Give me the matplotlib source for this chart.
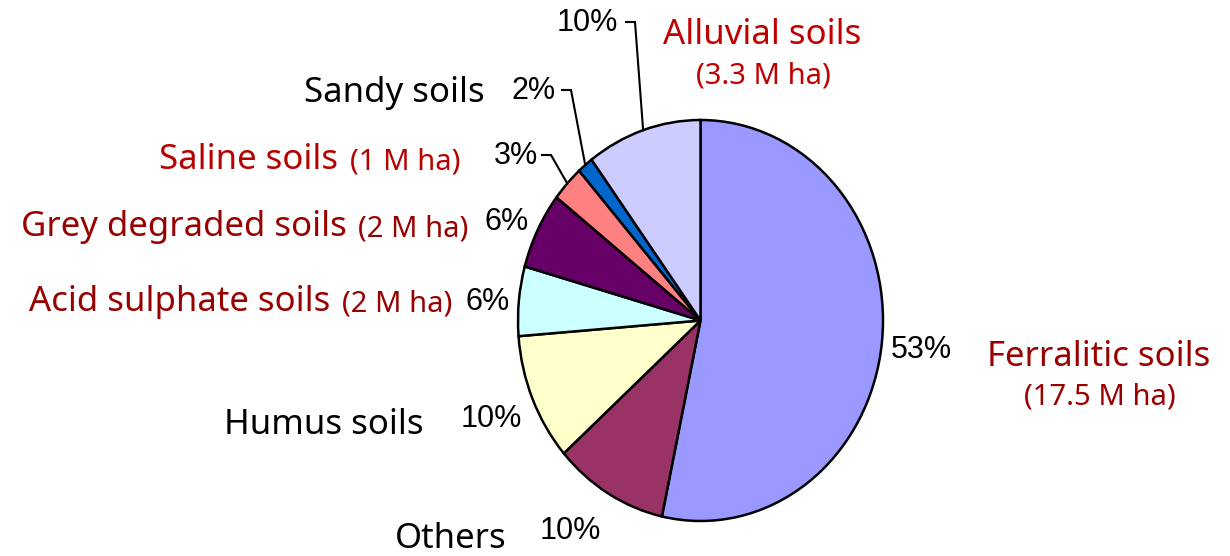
import numpy as np
import matplotlib
matplotlib.use('Agg')
import matplotlib.pyplot as plt

# Soil types, clockwise from 12 o'clock
soils = ['Ferralitic soils', 'Others', 'Humus soils', 'Acid sulphate soils',
         'Grey degraded soils', 'Saline soils', 'Sandy soils', 'Alluvial soils']
shares = [53.5, 10.1, 10.3, 5.6, 6.2, 2.9, 1.4, 10.2]
pct_labels = ['53%', '10%', '10%', '6%', '6%', '3%', '2%', '10%']
areas = ['(17.5 M ha)', '', '', '(2 M ha)', '(2 M ha)', '(1 M ha)', '', '(3.3 M ha)']
colors = ['#9999FF', '#993366', '#FFFFCC', '#CCFFFF', '#660066', '#FF8080', '#0066CC', '#CCCCFF']
text_colors = ['#990000', 'black', 'black', '#990000', '#990000', '#B80000', 'black', '#C00000']

W, H = 1230, 556
fig = plt.figure(figsize=(W / 100, H / 100), dpi=100)

# pie drawn in its own axes so it can be slightly taller than wide
pie_ax = fig.add_axes([518 / W, (H - 521) / H, 365 / W, 401 / H])
wedges, _ = pie_ax.pie(shares, colors=colors, startangle=90, counterclock=False,
                       radius=1, wedgeprops=dict(edgecolor='black', linewidth=1.8))
pie_ax.set_aspect('auto')
pie_ax.set_xlim(-1, 1)
pie_ax.set_ylim(-1, 1)
pie_ax.axis('off')

# overlay in pixel coordinates for labels
ov = fig.add_axes([0, 0, 1, 1], zorder=5)
ov.set_xlim(0, W)
ov.set_ylim(H, 0)
ov.axis('off')
ov.patch.set_alpha(0)

lab_font = 'Noto Sans'
pct_font = 'Liberation Sans'
big, small, pfs = 25, 21, 22


def edge_point(i, r=1.0):
    w = wedges[i]
    th = np.deg2rad((w.theta1 + w.theta2) / 2)
    disp = pie_ax.transData.transform((r * np.cos(th), r * np.sin(th)))
    return ov.transData.inverted().transform(disp)


# percentages (right edge x, center y)
pct_pos = {0: (952, 350), 1: (601, 531), 2: (522, 419),
           3: (510, 302), 4: (529, 222), 5: (538, 156),
           6: (556, 91), 7: (618, 23)}
for i, (x, y) in pct_pos.items():
    ov.text(x, y, pct_labels[i], fontsize=pfs, family=pct_font, ha='right', va='center', color='black')

# leader lines for the small top slices
for i, (x, y) in {5: (551, 155), 6: (571, 90), 7: (635, 22)}.items():
    ex, ey = edge_point(i)
    ov.plot([x - 9, x, ex], [y, y, ey], color='black', lw=1.5, solid_joinstyle='miter')

# soil names
ov.text(762, 35, soils[7], fontsize=big, family=lab_font, color=text_colors[7], ha='center', va='center')
ov.text(763, 76, areas[7], fontsize=small, family=lab_font, color=text_colors[7], ha='center', va='center')
ov.text(485, 93, soils[6], fontsize=big, family=lab_font, color=text_colors[6], ha='right', va='center')
ov.text(1099, 357, soils[0], fontsize=big, family=lab_font, color=text_colors[0], ha='center', va='center')
ov.text(1100, 397, areas[0], fontsize=small, family=lab_font, color=text_colors[0], ha='center', va='center')
ov.text(424, 425, soils[2], fontsize=big, family=lab_font, color=text_colors[2], ha='right', va='center')
ov.text(507, 539, soils[1], fontsize=big, family=lab_font, color=text_colors[1], ha='right', va='center')

# names followed by a smaller area note
for i, (xr, y) in {5: (460, 160), 4: (468, 227), 3: (452, 302)}.items():
    t = ov.text(xr, y + 2, areas[i], fontsize=small, family=lab_font, color=text_colors[i],
                ha='right', va='center')
    fig.canvas.draw()
    bb = t.get_window_extent()
    x0 = ov.transData.inverted().transform((bb.x0, bb.y0))[0]
    ov.text(x0 - 11, y, soils[i], fontsize=big, family=lab_font, color=text_colors[i],
            ha='right', va='center')

fig.savefig('out.png', dpi=100)
